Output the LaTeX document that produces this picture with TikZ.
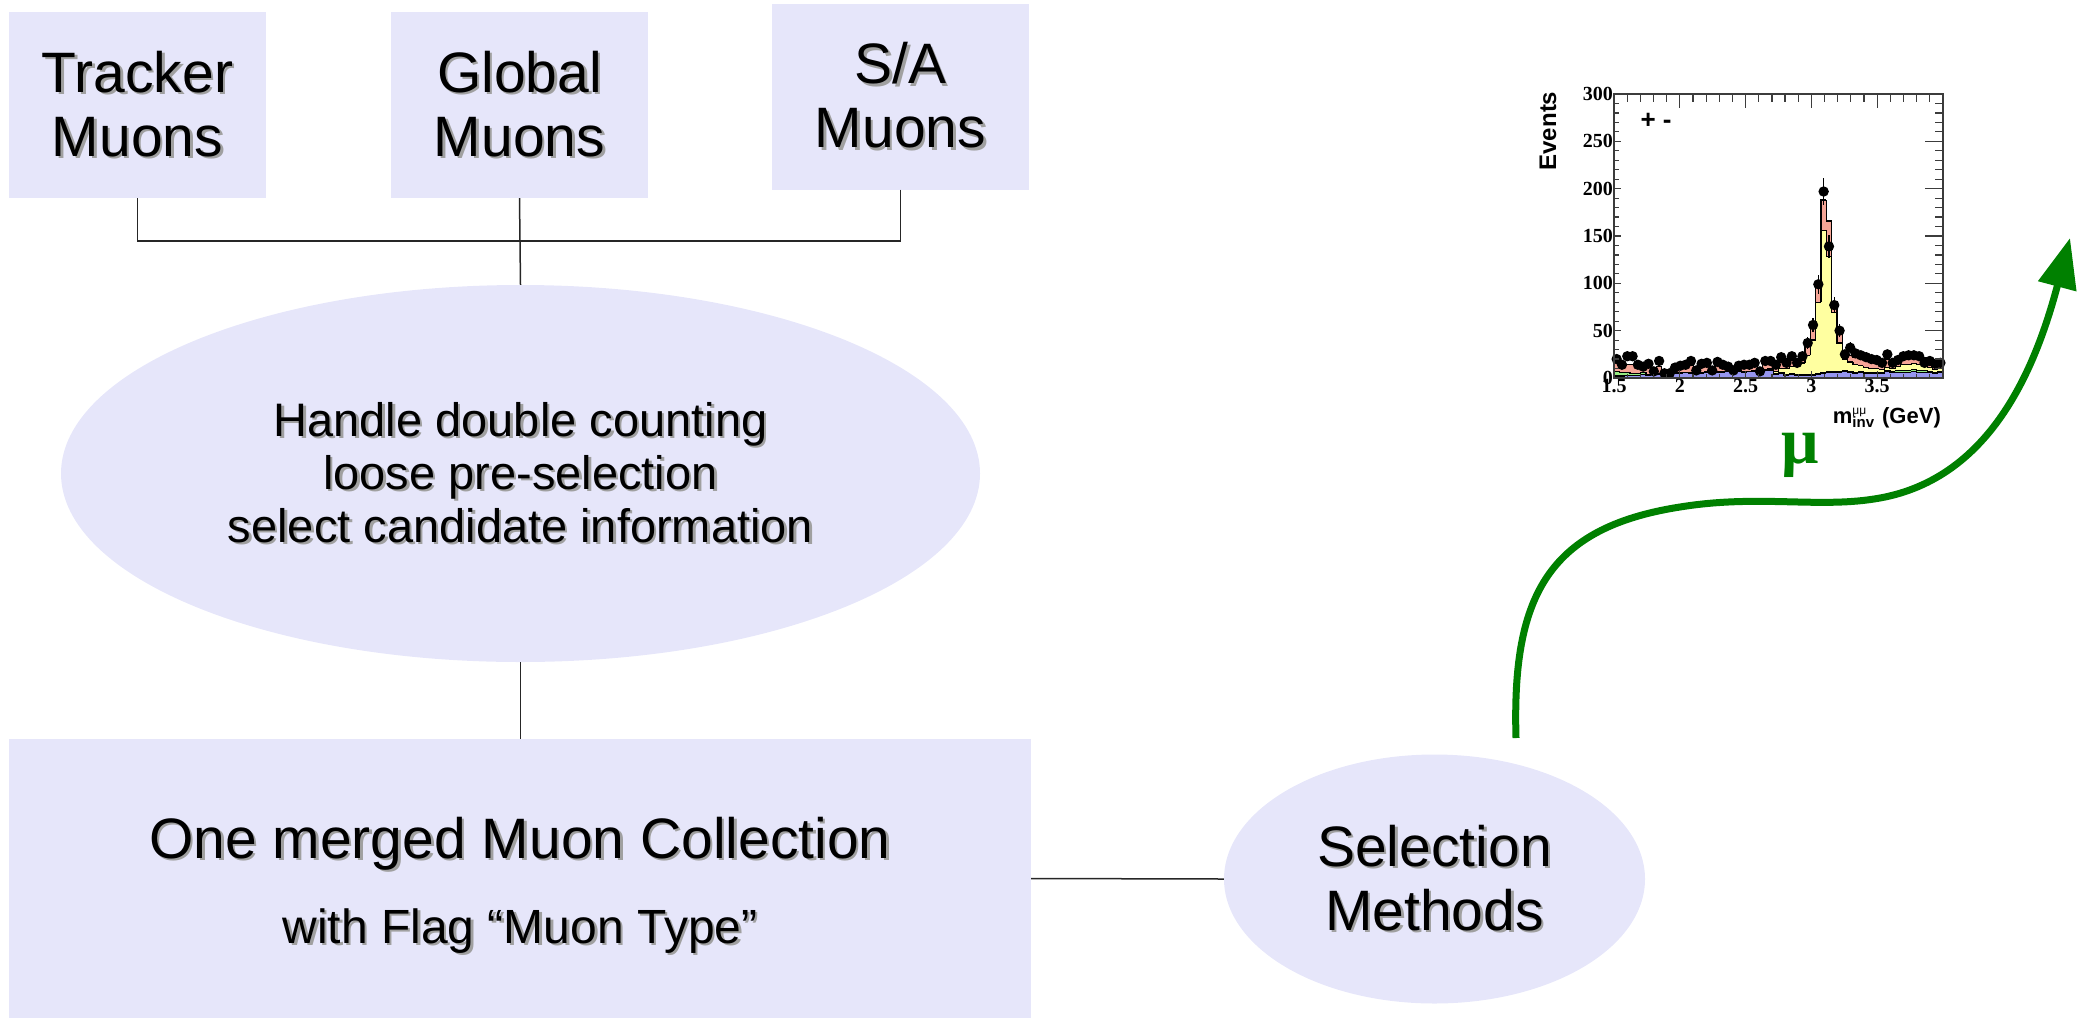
\documentclass[tikz,border=0pt]{standalone}
\usepackage{fontspec}
\setmainfont{Liberation Sans}
\newfontfamily\plotnum{Liberation Serif}
\usetikzlibrary{shapes.geometric,arrows.meta}

\definecolor{boxfill}{RGB}{230,230,250}
\definecolor{txtshadow}{RGB}{160,160,160}
\definecolor{arrowgreen}{RGB}{0,128,0}
\definecolor{hblue}{RGB}{150,150,240}
\definecolor{hgreen}{RGB}{150,235,130}
\definecolor{hyellow}{RGB}{255,255,160}
\definecolor{hsalmon}{RGB}{245,165,150}
\definecolor{axisgray}{RGB}{60,60,60}

% text with a soft grey drop shadow
\newcommand\sh[1]{\makebox[0pt][l]{\hspace{2.5pt}\raisebox{-2.5pt}{\textcolor{txtshadow}{#1}}}#1}

% bins: blue / green / signal / other background / data
\def\histdata{2/5/0/10/20, 2/4/0/9/14, 3/3/0/8/23, 3/2/0/9/23, 3/2/0/7/14,
 4/2/0/6/12, 3/1/0/8/15, 4/1/0/5/7, 4/1/0/7/18, 3/1/0/4/5,
 4/1/0/3/5, 5/1/0/5/11, 5/1/0/6/13, 6/0/0/5/14, 5/1/0/7/18,
 6/0/0/4/8, 5/1/0/7/15, 6/1/0/6/16, 5/0/0/4/8, 6/1/0/7/17,
 6/1/0/6/14, 7/0/0/5/12, 6/1/0/4/8, 7/1/0/5/13, 6/1/0/6/14,
 7/0/0/6/14, 7/1/0/6/16, 6/1/0/4/7, 8/1/0/6/18, 8/1/1/6/18,
 4/1/2/7/14, 5/1/4/7/22, 3/1/6/6/16, 4/1/7/8/23, 3/1/9/6/16,
 3/1/12/8/23, 3/1/20/10/37, 3/1/36/12/56, 4/1/75/18/99, 5/1/150/32/197,
 6/1/121/38/139, 6/1/62/12/77, 6/1/30/10/50, 7/1/12/6/25, 6/1/10/7/32,
 5/1/8/8/26, 6/1/6/8/24, 5/1/5/8/22, 5/1/4/8/20, 5/1/4/7/19,
 5/1/3/7/16, 7/1/3/9/25, 6/1/3/7/16, 6/2/4/8/19, 6/2/6/9/23,
 6/2/6/10/24, 7/2/6/10/24, 6/2/6/9/23, 6/2/5/8/16, 6/1/4/7/18,
 5/1/3/6/15, 6/1/3/6/16}

\tikzset{
  box/.style={fill=boxfill, draw=none, inner sep=0pt, align=center},
  oval/.style={ellipse, fill=boxfill, draw=none, inner sep=0pt, align=center},
  link/.style={draw=black!85, line width=1.5pt},
  bigtxt/.style={font=\fontsize{57}{64}\selectfont},
  hline/.style={draw=black, line width=1.3pt},
  ticks/.style={draw=axisgray, line width=1.2pt},
  numlab/.style={font=\plotnum\bfseries\fontsize{20}{20}\selectfont, inner sep=1pt},
}

\begin{document}
\begin{tikzpicture}[x=1pt,y=-1pt]
\useasboundingbox (0,0) rectangle (2087,1018);

% the three input collections
\node[box, bigtxt, minimum width=257pt, minimum height=186pt] (tracker) at (137.5,105) {\sh{Tracker}\\\sh{Muons}};
\node[box, bigtxt, minimum width=257pt, minimum height=186pt] (glob) at (519.5,105) {\sh{Global}\\\sh{Muons}};
\node[box, bigtxt, minimum width=257pt, minimum height=186pt] (sa) at (900.5,96.5) {\sh{S/A}\\\sh{Muons}};

% merging step
\node[oval, minimum width=919pt, minimum height=377pt, font=\fontsize{47}{53}\selectfont] (prep) at (520.5,473.5)
  {\sh{Handle double counting}\\\sh{loose pre-selection}\\\sh{select candidate information}};

% merged collection
\node[box, minimum width=1022pt, minimum height=279pt] (merged) at (520,878.5) {};
\node[anchor=base, inner sep=0pt, font=\fontsize{57}{64}\selectfont] (mergedtitle) at (520,858) {\sh{One merged Muon Collection}};
\node[anchor=base, inner sep=0pt, font=\fontsize{48}{54}\selectfont] (mergedflag) at (520,943) {\sh{with Flag “Muon Type”}};

% selection
\node[oval, bigtxt, minimum width=421pt, minimum height=249pt] (sel) at (1434.5,879) {\sh{Selection}\\\sh{Methods}};

% connectors
\coordinate (join) at (519.5,241);
\draw[link] (tracker.south) |- (join);
\draw[link] (sa.south) |- (join);
\draw[link] (glob.south) -- (prep.north);
\draw[link] (prep.south) -- (prep.south |- merged.north);
\draw[link] (merged.east) -- (sel.west);

% muon track
\coordinate (mustart) at (1516,738);
\coordinate (mutip) at (2070,238);
\draw[line width=7pt, arrowgreen, -{Triangle[length=50pt,width=38pt]}]
  (mustart) .. controls (1512,600) and (1545,528) .. (1680,507)
  .. controls (1760,494) and (1820,509) .. (1880,498)
  .. controls (1990,478) and (2035,370) .. (mutip);
\node[text=arrowgreen, font=\plotnum\bfseries\fontsize{66}{66}\selectfont, inner sep=0pt] (mu) at (1800,455) {μ};

% invariant mass plot
\begin{scope}[shift={(1416.6pt,-378pt)}, x=131.6pt, y=0.94667pt]
  \foreach \vb/\vg/\vs/\vo/\vd [count=\i from 0] in \histdata {
    \pgfmathsetmacro\xa{1.5+\i*0.0403226}
    \pgfmathsetmacro\xb{\xa+0.0413}
    \pgfmathsetmacro\levg{\vb+\vg}
    \pgfmathsetmacro\levs{\levg+\vs}
    \pgfmathsetmacro\levt{\levs+\vo}
    \fill[hblue] (\xa,0) rectangle (\xb,\vb);
    \fill[hgreen] (\xa,\vb) rectangle (\xb,\levg);
    \fill[hyellow] (\xa,\levg) rectangle (\xb,\levs);
    \fill[hsalmon] (\xa,\levs) rectangle (\xb,\levt);
  }
  \gdef\prvb{0}\gdef\prvg{0}\gdef\prvs{0}\gdef\prvt{0}
  \foreach \vb/\vg/\vs/\vo/\vd [count=\i from 0] in \histdata {
    \pgfmathsetmacro\xa{1.5+\i*0.0403226}
    \pgfmathsetmacro\xb{\xa+0.0403226}
    \pgfmathsetmacro\levg{\vb+\vg}
    \pgfmathsetmacro\levs{\levg+\vs}
    \pgfmathsetmacro\levt{\levs+\vo}
    \draw[hline] (\xa,\prvb) -- (\xa,\vb) -- (\xb,\vb);
    \draw[hline] (\xa,\prvg) -- (\xa,\levg) -- (\xb,\levg);
    \draw[hline] (\xa,\prvs) -- (\xa,\levs) -- (\xb,\levs);
    \draw[hline] (\xa,\prvt) -- (\xa,\levt) -- (\xb,\levt);
    \xdef\prvb{\vb}\xdef\prvg{\levg}\xdef\prvs{\levs}\xdef\prvt{\levt}
  }
  \foreach \vb/\vg/\vs/\vo/\vd [count=\i from 0] in \histdata {
    \pgfmathsetmacro\xc{1.5+(\i+0.5)*0.0403226}
    \pgfmathsetmacro\ea{\vd-sqrt(\vd)}
    \pgfmathsetmacro\eb{\vd+sqrt(\vd)}
    \draw[line width=1.4pt] (\xc,\ea) -- (\xc,\eb);
    \fill (\xc,\vd) circle[radius=5.2pt];
  }
  % axes
  \foreach \v in {10,20,...,290} {
    \draw[ticks] (1.5,\v) -- ++(4.5pt,0);
    \draw[ticks] (4,\v) -- ++(-8pt,0);
  }
  \foreach \v in {50,100,...,250} {
    \draw[ticks] (1.5,\v) -- ++(7pt,0);
    \draw[ticks] (4,\v) -- ++(-18pt,0);
  }
  \foreach \u in {1.6,1.7,...,3.95} {
    \draw[ticks] (\u,300) -- ++(0,-8pt);
    \draw[ticks] (\u,0) -- ++(0,4pt);
  }
  \foreach \u in {2,2.5,3,3.5} {
    \draw[ticks] (\u,300) -- ++(0,-14pt);
    \draw[ticks] (\u,0) -- ++(0,7pt);
  }
  \draw[draw=axisgray, line width=1.5pt] (1.5,0) rectangle (4,300);
  \foreach \v in {0,50,...,300}
    \node[numlab, anchor=east] (ylab\v) at (1.5,\v) {\v};
  \foreach \u/\t [count=\k] in {1.5/1.5, 2/2, 2.5/2.5, 3/3, 3.5/3.5}
    \node[numlab, anchor=north] (xlab\k) at (\u,0) {\t};
\end{scope}
\node[rotate=90, font=\bfseries\fontsize{24}{24}\selectfont, inner sep=0pt] (evlab) at (1548,131) {Events};
\node[font=\bfseries\fontsize{26}{26}\selectfont, inner sep=0pt] (charge) at (1656,121) {+\hspace{7pt}-};
\node[anchor=base east, font=\bfseries\fontsize{22}{22}\selectfont, inner sep=0pt] (mlab) at (1941,423)
  {m\makebox[0pt][l]{\raisebox{9pt}{\mdseries\fontsize{12}{12}\selectfont μμ}}\raisebox{-4pt}{\fontsize{15}{15}\selectfont inv}\hspace{8pt}(GeV)};
\end{tikzpicture}
\end{document}
